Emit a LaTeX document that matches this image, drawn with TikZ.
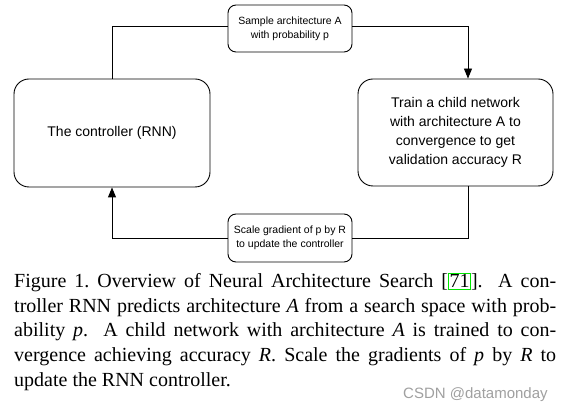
\documentclass[tikz,border=0pt]{standalone}
\usepackage{fontspec}
\setmainfont{Liberation Serif}
\newfontfamily\diafont{Liberation Sans}
\usetikzlibrary{arrows.meta}
\definecolor{wmgray}{RGB}{160,160,160}
\definecolor{refgreen}{RGB}{0,230,0}
\begin{document}
\begin{tikzpicture}[x=1pt,y=-1pt,
  bigbox/.style={draw=black,line width=0.9pt,rounded corners=15pt,inner sep=0pt,align=center,
    font=\diafont\fontsize{14}{19}\selectfont},
  labbox/.style={draw=black,line width=0.9pt,rounded corners=8pt,inner sep=0pt,align=center,
    fill=white,font=\diafont\fontsize{10.5}{13.8}\selectfont},
  conn/.style={draw=black,line width=0.9pt},
  arr/.style={conn,-{Triangle[length=10pt,width=8pt]}},
  capline/.style={anchor=base west,inner sep=0pt,font=\fontsize{20}{24}\selectfont}
]
\useasboundingbox (0,0) rectangle (566,411);
\fill[white] (0,0) rectangle (566,411);

\node[bigbox,minimum width=196pt,minimum height=108pt] (ctrl) at (112,133) {The controller (RNN)};
\node[bigbox,minimum width=195pt,minimum height=107pt] (train) at (455.5,132.5)
  {Train a child network\\with architecture A to\\convergence to get\\validation accuracy R};
\node[labbox,minimum width=124pt,minimum height=47pt] (sample) at (290,28.5)
  {Sample architecture A\\with probability p};
\node[labbox,minimum width=124pt,minimum height=48pt] (scale) at (290,238)
  {Scale gradient of p by R\\to update the controller};

\draw[conn] (ctrl.north) |- ([yshift=2.5pt]sample.west);
\draw[arr] ([yshift=2.5pt]sample.east) -| ([xshift=12.5pt]train.north);
\draw[conn] ([xshift=12.5pt]train.south) |- (scale.east);
\draw[arr] (scale.west) -| (ctrl.south);

\node[capline] (cap1) at (14,288) {\makebox[542pt][s]{Figure 1.\ Overview of Neural Architecture Search [{\setlength{\fboxsep}{0.8pt}\setlength{\fboxrule}{0.7pt}\color{refgreen}\fbox{\color{black}71}}].  A con-}};
\node[capline] (cap2) at (14,312.5) {\makebox[542pt][s]{troller RNN predicts architecture \textit{A} from a search space with prob-}};
\node[capline] (cap3) at (14,337) {\makebox[542pt][s]{ability \textit{p}.  A child network with architecture \textit{A} is trained to con-}};
\node[capline] (cap4) at (14,362) {\makebox[542pt][s]{vergence achieving accuracy \textit{R}. Scale the gradients of \textit{p} by \textit{R} to}};
\node[capline] (cap5) at (14,387) {update the RNN controller.};

\node[anchor=base west,inner sep=0pt,text=wmgray,font=\diafont\fontsize{15}{18}\selectfont] (wm) at (403,399) {CSDN @datamonday};
\end{tikzpicture}
\end{document}
